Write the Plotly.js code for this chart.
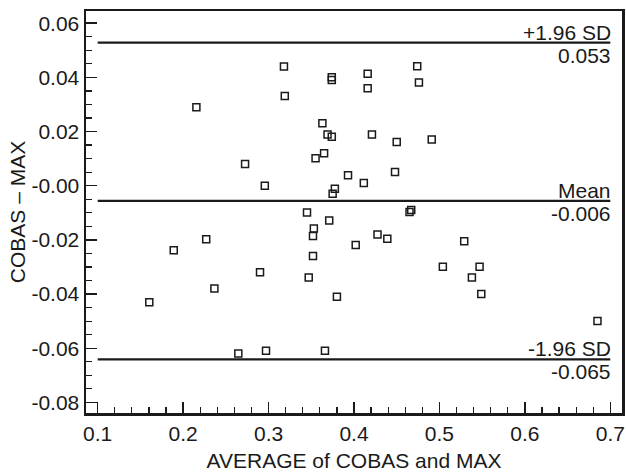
<!DOCTYPE html>
<html>
<head>
<meta charset="utf-8">
<script src="https://cdn.plot.ly/plotly-3.0.1.min.js"></script>
<style>html,body{margin:0;padding:0;background:#fff;}#chart{width:626px;height:474px;}</style>
</head>
<body>
<div id="chart"></div>
<script>
// Average of COBAS and MAX
var avgValues = [0.318, 0.374, 0.374, 0.319, 0.2155, 0.363, 0.369, 0.374, 0.365, 0.355,
  0.2725, 0.2956, 0.3776, 0.375, 0.474, 0.416, 0.476, 0.416, 0.421, 0.450,
  0.491, 0.393, 0.448, 0.4115, 0.345, 0.371, 0.465, 0.467, 0.353, 0.352,
  0.4275, 0.439, 0.529, 0.227, 0.189, 0.352, 0.290, 0.347, 0.2366, 0.380,
  0.1604, 0.2646, 0.297, 0.366, 0.402, 0.504, 0.547, 0.538, 0.549, 0.685];
// Difference COBAS - MAX
var diffValues = [0.0440, 0.0400, 0.0390, 0.0331, 0.0290, 0.0231, 0.0189, 0.0181, 0.0120, 0.0101,
  0.0080, 0.0000, -0.0011, -0.0030, 0.0441, 0.0413, 0.0381, 0.0360, 0.0189, 0.0161,
  0.0171, 0.0039, 0.0051, 0.0010, -0.0099, -0.0128, -0.0097, -0.0090, -0.0158, -0.0186,
  -0.0180, -0.0196, -0.0205, -0.0198, -0.0238, -0.0259, -0.0319, -0.0339, -0.0379, -0.0410,
  -0.0430, -0.0619, -0.0609, -0.0609, -0.0219, -0.0299, -0.0299, -0.0339, -0.0400, -0.0499];

// Reference lines: +1.96 SD, mean, -1.96 SD
var limitNames = ["+1.96 SD", "Mean", "-1.96 SD"];
var limitLabels = ["0.053", "-0.006", "-0.065"];
var limitValues = [0.0528, -0.0056, -0.0641];
var limitSpan = [0.1, 0.7];

var xTickVals = [0.1, 0.2, 0.3, 0.4, 0.5, 0.6, 0.7];
var xTickText = ["0.1", "0.2", "0.3", "0.4", "0.5", "0.6", "0.7"];
var yTickVals = [0.06, 0.04, 0.02, 0, -0.02, -0.04, -0.06, -0.08];
var yTickText = ["0.06", "0.04", "0.02", "-0.00", "-0.02", "-0.04", "-0.06", "-0.08"];

var ink = "#1a1a1a";
var fontFamily = "Liberation Sans, Arial, sans-serif";
var fs = 21;

var traces = [];
limitValues.forEach(function (v) {
  traces.push({
    type: "scatter", mode: "lines",
    x: limitSpan, y: [v, v],
    line: {color: ink, width: 2.2},
    hoverinfo: "skip", showlegend: false
  });
});
traces.push({
  type: "scatter", mode: "markers",
  x: avgValues, y: diffValues,
  marker: {symbol: "square-open", size: 7, color: ink, line: {width: 1.5, color: ink}},
  showlegend: false
});

var annotations = [];
limitValues.forEach(function (v, i) {
  annotations.push({
    xref: "x", yref: "y", x: limitSpan[1], y: v,
    text: limitNames[i], showarrow: false,
    xanchor: "right", yanchor: "bottom", yshift: -3, xshift: 3,
    font: {family: fontFamily, size: fs, color: ink}
  });
  annotations.push({
    xref: "x", yref: "y", x: limitSpan[1], y: v,
    text: limitLabels[i], showarrow: false,
    xanchor: "right", yanchor: "top", yshift: 1, xshift: 3,
    font: {family: fontFamily, size: fs, color: ink}
  });
});

var layout = {
  width: 626, height: 474,
  margin: {l: 86, r: 4, t: 11, b: 61},
  paper_bgcolor: "#fff", plot_bgcolor: "#fff",
  font: {family: fontFamily, size: fs, color: ink},
  showlegend: false,
  xaxis: {
    range: [0.0863, 0.7137],
    tickmode: "array", tickvals: xTickVals, ticktext: xTickText,
    ticks: "inside", ticklen: 11, tickwidth: 1.5, tickcolor: ink,
    minor: {dtick: 0.02, tick0: 0.1, ticks: "inside", ticklen: 6, tickwidth: 1.2, tickcolor: ink, showgrid: false},
    showline: true, linewidth: 2.5, linecolor: ink, mirror: true,
    showgrid: false, zeroline: false,
    tickfont: {size: fs},
    title: {text: "AVERAGE of COBAS and MAX", font: {size: fs}, standoff: 10}
  },
  yaxis: {
    range: [-0.0839, 0.0645],
    tickmode: "array", tickvals: yTickVals, ticktext: yTickText,
    ticks: "inside", ticklen: 11, tickwidth: 1.5, tickcolor: ink,
    minor: {dtick: 0.005, tick0: 0, ticks: "inside", ticklen: 6, tickwidth: 1.2, tickcolor: ink, showgrid: false},
    showline: true, linewidth: 2.5, linecolor: ink, mirror: true,
    showgrid: false, zeroline: false,
    tickfont: {size: fs},
    title: {text: "COBAS \u2013 MAX", font: {size: fs}, standoff: 0}
  },
  annotations: annotations
};

Plotly.newPlot("chart", traces, layout, {staticPlot: true, displayModeBar: false});
</script>
</body>
</html>
